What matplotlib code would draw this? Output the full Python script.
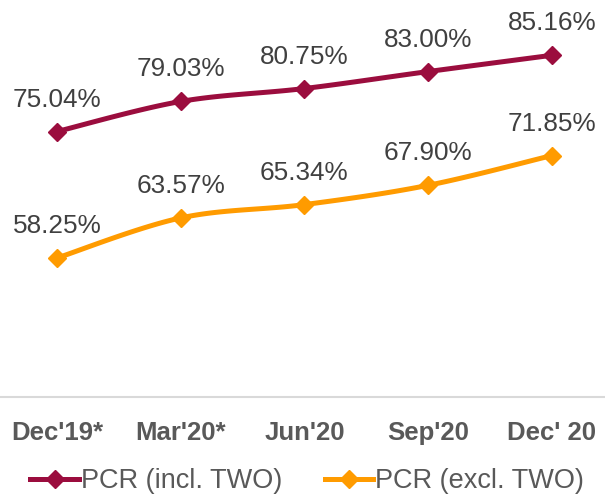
import numpy as np
import matplotlib
matplotlib.use("Agg")
import matplotlib.pyplot as plt
from matplotlib.lines import Line2D

plt.rcParams['font.family'] = ['Liberation Sans', 'DejaVu Sans']

# =========================
# データ
# =========================
periods = ["Dec'19*", "Mar'20*", "Jun'20", "Sep'20", "Dec' 20"]
pcr_incl = [75.04, 79.03, 80.75, 83.00, 85.16]
pcr_excl = [58.25, 63.57, 65.34, 67.90, 71.85]
series_names = ["PCR (incl. TWO)", "PCR (excl. TWO)"]

C_INCL = "#9B0D3E"
C_EXCL = "#FF9B00"


def smooth(xs, ys, n=30):
    # Excel風のベジェ平滑化
    pts = np.column_stack([xs, ys]).astype(float)
    out = [pts[0]]
    for i in range(len(pts) - 1):
        p0 = pts[i - 1] if i > 0 else pts[i]
        p1, p2 = pts[i], pts[i + 1]
        p3 = pts[i + 2] if i + 2 < len(pts) else pts[i + 1]
        c1 = p1 + (p2 - p0) / 6
        c2 = p2 - (p3 - p1) / 6
        t = np.linspace(0, 1, n)[1:, None]
        seg = ((1 - t) ** 3) * p1 + 3 * ((1 - t) ** 2) * t * c1 \
            + 3 * (1 - t) * t ** 2 * c2 + t ** 3 * p2
        out.extend(seg)
    out = np.array(out)
    return out[:, 0], out[:, 1]


fig = plt.figure(figsize=(6.05, 4.96), dpi=100)
ax = fig.add_axes([0, 0.1996, 1, 0.8004])

x = np.arange(len(periods))
for vals, col in [(pcr_incl, C_INCL), (pcr_excl, C_EXCL)]:
    # スケール差を補正して平滑化
    sx, sy = smooth(x * 123.75, np.array(vals) * 7.53)
    ax.plot(sx / 123.75, sy / 7.53, color=col, lw=3.6, solid_capstyle="round", zorder=2)
    ax.plot(x, vals, ls="none", marker="D", ms=9, color=col, zorder=3)
    for xi, v in zip(x, vals):
        ax.annotate(f"{v:.2f}%", (xi, v), xytext=(0, 18), textcoords="offset points",
                    ha="center", va="baseline", fontsize=18.8, color="#404040")

ax.set_xlim(-0.46, 4.43)
ax.set_ylim(39.8, 92.5)
ax.set_yticks([])
ax.set_xticks(x)
ax.set_xticklabels(periods, fontsize=18.5, fontweight="bold", color="#595959")
ax.tick_params(axis="x", length=0, pad=17)
for s in ["left", "right", "top"]:
    ax.spines[s].set_visible(False)
ax.spines["bottom"].set_color("#D9D9D9")
ax.spines["bottom"].set_linewidth(1.5)

handles = [Line2D([], [], color=C_INCL, lw=3.6, marker="D", ms=9),
           Line2D([], [], color=C_EXCL, lw=3.6, marker="D", ms=9)]
fig.legend(handles, series_names, loc="center", bbox_to_anchor=(0.508, 0.03), ncol=2,
           frameon=False, fontsize=19.5, handlelength=1.8, handletextpad=0.08,
           columnspacing=1.55, labelcolor="#595959", borderpad=0)

fig.savefig("out.png", dpi=100)
